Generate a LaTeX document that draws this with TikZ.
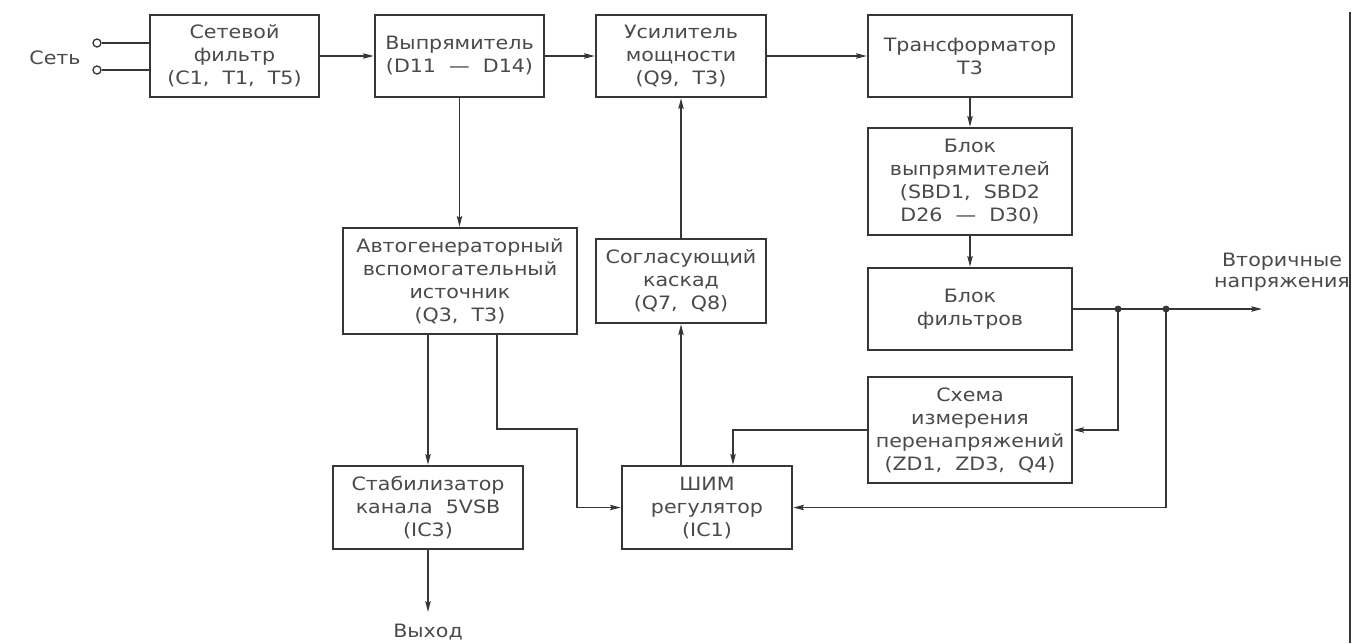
\documentclass[tikz,border=0pt]{standalone}
\usepackage{fontspec}
\setmainfont{DejaVu Sans}[FakeStretch=1.12]
\usetikzlibrary{arrows.meta}
\definecolor{ln}{HTML}{363636}
\definecolor{tx}{HTML}{4A4A4A}
\begin{document}
\begin{tikzpicture}[x=0.75pt,y=-0.75pt,
  box/.style={draw=ln, line width=1.9pt, align=center, text=tx, inner sep=0pt,
    font=\fontsize{13.8}{17.25}\selectfont},
  conn/.style={draw=ln, line width=1.05pt},
  arr/.style={conn, -{Stealth[length=8pt,width=4pt,inset=1.2pt]}},
  lbl/.style={text=tx, align=center, inner sep=0pt, font=\fontsize{13.8}{15.5}\selectfont},
  term/.style={circle, draw=ln, line width=1pt, inner sep=0pt, minimum size=6pt}]
\useasboundingbox (0,0) rectangle (1353,643);
\fill[white] (0,0) rectangle (1353,643);

% boxes
\node[box, minimum width=126.75pt, minimum height=61.5pt] (A) at (234.5,56) {Сетевой\\фильтр\\(C1,\ \ T1,\ \ T5)};
\node[box, minimum width=126.75pt, minimum height=61.5pt] (B) at (459.5,56) {Выпрямитель\\(D11\ \ —\ \ D14)};
\node[box, minimum width=127.5pt, minimum height=61.5pt] (C) at (681,56) {Усилитель\\мощности\\(Q9,\ \ T3)};
\node[box, minimum width=153pt, minimum height=61.5pt] (D) at (970,56) {Трансформатор\\Т3};
\node[box, minimum width=153pt, minimum height=80.25pt] (E) at (970,181.5) {Блок\\выпрямителей\\(SBD1,\ \ SBD2\\D26\ \ —\ \ D30)};
\node[box, minimum width=153pt, minimum height=61.5pt] (F) at (970,309) {Блок\\фильтров};
\node[box, minimum width=153pt, minimum height=79.5pt] (G) at (970,430) {Схема\\измерения\\перенапряжений\\(ZD1,\ \ ZD3,\ \ Q4)};
\node[box, minimum width=175.5pt, minimum height=79.5pt] (H) at (460,281) {Автогенераторный\\вспомогательный\\источник\\(Q3,\ \ T3)};
\node[box, minimum width=127.5pt, minimum height=63pt] (I) at (681,281) {Согласующий\\каскад\\(Q7,\ \ Q8)};
\node[box, minimum width=142.5pt, minimum height=62.25pt] (J) at (428,507.5) {Стабилизатор\\канала\ \ 5VSB\\(IC3)};
\node[box, minimum width=127.5pt, minimum height=62.25pt] (K) at (707,507.5) {ШИМ\\регулятор\\(IC1)};

% labels
\node[lbl] (set) at (55,58) {Сеть};
\node[lbl] (vyh) at (428,632) {Выход};
\node[lbl] (vtor) at (1282,272) {Вторичные\\напряжения};

% input terminals
\node[term] (t1) at (97,43) {};
\node[term] (t2) at (97,70) {};
\draw[conn] (t1.east) -- (t1.east -| A.west);
\draw[conn] (t2.east) -- (t2.east -| A.west);

% main chain
\draw[arr] (A.east) -- (B.west);
\draw[arr] (B.east) -- (C.west);
\draw[arr] (C.east) -- (D.west);
\draw[arr] (D.south) -- (E.north);
\draw[arr] (E.south) -- (F.north);

% outputs
\coordinate (out) at (1262,309);
\coordinate (j1) at (1118,309);
\coordinate (j2) at (1166,309);
\draw[arr] (F.east) -- (out);
\draw[arr] (j1) |- (G.east);
\draw[arr] (j2) |- (K.east);
\fill[ln] (j1) circle (2.6pt);
\fill[ln] (j2) circle (2.6pt);

\draw[arr] (G.west) -| ([xshift=19.5pt]K.north);
\draw[arr] (B.south) -- (B.south |- H.north);
\draw[arr] (K.north -| I.south) -- (I.south);
\draw[arr] (I.north) -- (C.south);
\draw[arr] (H.south -| J.north) -- (J.north);
\draw[arr] ([xshift=27.75pt]H.south) |- (577,429) |- (K.west);
\coordinate (vo) at (428,612);
\draw[arr] (J.south) -- (vo);

% right border line
\draw[ln, line width=1.3pt] (1350,12) -- (1350,643);
\end{tikzpicture}
\end{document}
